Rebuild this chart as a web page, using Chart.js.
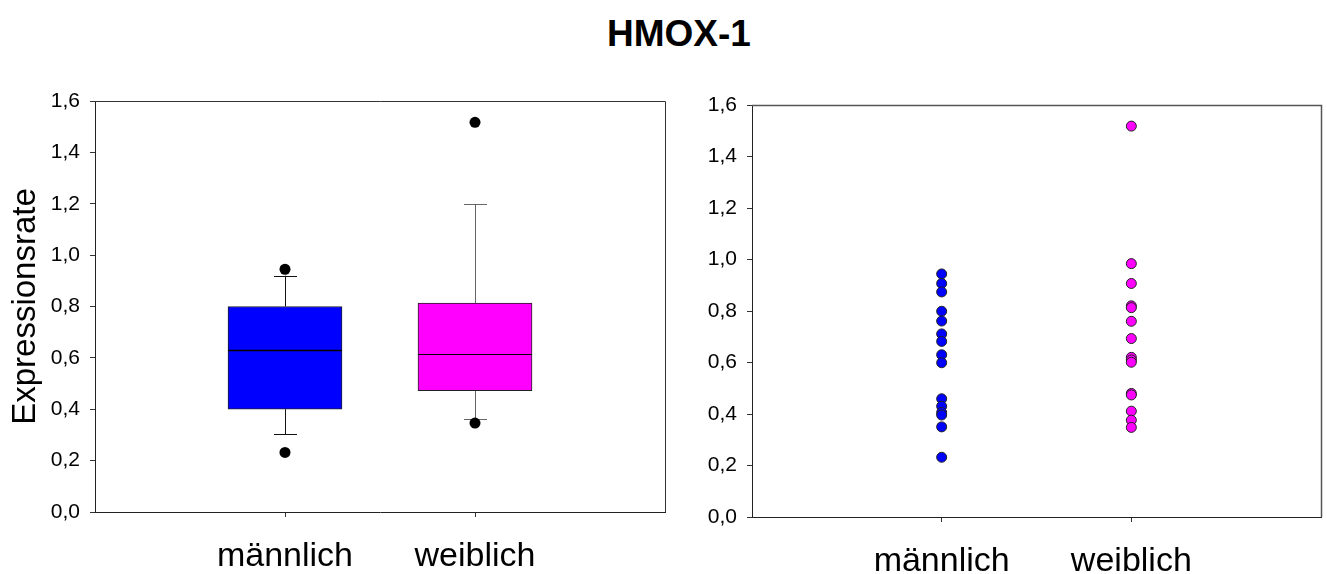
<!DOCTYPE html>
<html>
<head>
<meta charset="utf-8">
<title>HMOX-1</title>
<script src="https://cdn.jsdelivr.net/npm/chart.js@4.4.1/dist/chart.umd.min.js"></script>
<style>
    html, body { margin: 0; padding: 0; background: #fff; }
    body { width: 1327px; height: 574px; position: relative; overflow: hidden; }
    #title {
        position: absolute; left: 679px; top: 15px; transform: translateX(-50%);
        font: bold 37px "Liberation Sans", Arial, sans-serif; line-height: 37px;
        color: #000; white-space: nowrap;
    }
    #boxChart { position: absolute; left: 0; top: 0; }
    #dotChart { position: absolute; left: 680px; top: 0; }
</style>
</head>
<body>
<div id="title">HMOX-1</div>
<canvas id="boxChart" width="680" height="574"></canvas>
<canvas id="dotChart" width="647" height="574"></canvas>
<script>
// Gruppen
const categories = ['männlich', 'weiblich'];
const yTickValues = [0, 0.2, 0.4, 0.6, 0.8, 1.0, 1.2, 1.4, 1.6];

// Boxplot-Kennwerte (Perzentile 10/25/50/75/90)
const whiskerLow = [0.302, 0.363];
const boxQ1 = [0.400, 0.472];
const boxMedian = [0.629, 0.616];
const boxQ3 = [0.800, 0.813];
const whiskerHigh = [0.920, 1.198];
// Ausreisser (5./95. Perzentil)
const outlierMale = [0.232, 0.945];
const outlierFemale = [0.346, 1.517];

// Einzelwerte
const maleValues = [0.944, 0.907, 0.874, 0.799, 0.761, 0.711, 0.682, 0.630,
    0.599, 0.459, 0.430, 0.406, 0.396, 0.350, 0.232];
const femaleValues = [1.518, 0.984, 0.907, 0.820, 0.813, 0.760, 0.693, 0.620,
    0.610, 0.601, 0.480, 0.474, 0.411, 0.376, 0.348];

const FONT = '"Liberation Sans", Arial, sans-serif';
const groupColors = ['#0000ff', '#ff00ff'];

function fmtComma(v) {
    return v.toFixed(1).replace('.', ',');
}

// gemeinsame Achsen
function makeScales(yWidth, xHeight, withTitle) {
    return {
        x: {
            type: 'linear',
            min: 0,
            max: 3,
            offset: false,
            afterBuildTicks: axis => { axis.ticks = categories.map((c, i) => ({ value: i + 1 })); },
            afterFit: scale => { scale.height = xHeight; },
            grid: { display: true, drawOnChartArea: false, drawTicks: true, tickLength: 5, color: '#333', offset: false },
            border: { display: true, color: '#222', width: 1 },
            ticks: {
                padding: 19,
                maxRotation: 0,
                autoSkip: false,
                color: '#000',
                font: { family: FONT, size: 34 },
                callback: v => categories[v - 1] || ''
            }
        },
        y: {
            min: 0,
            max: 1.6,
            afterBuildTicks: axis => { axis.ticks = yTickValues.map(v => ({ value: v })); },
            afterFit: scale => { scale.width = yWidth; },
            grid: { display: true, drawOnChartArea: false, drawTicks: true, tickLength: 5, color: '#333' },
            border: { display: true, color: '#222', width: 1 },
            ticks: {
                padding: 10,
                color: '#000',
                font: { family: FONT, size: 21 },
                callback: v => fmtComma(v)
            },
            title: {
                display: withTitle,
                text: 'Expressionsrate',
                color: '#000',
                font: { family: FONT, size: 33 },
                padding: { top: 6, bottom: 0 }
            }
        }
    };
}

// Rahmen oben und rechts
const framePlugin = {
    id: 'frame',
    afterDraw(chart, args, opts) {
        const { ctx, chartArea: a } = chart;
        ctx.save();
        ctx.strokeStyle = opts.color || '#444';
        ctx.lineWidth = opts.width || 1;
        ctx.beginPath();
        ctx.moveTo(a.left, a.top + 0.5);
        ctx.lineTo(a.right + 0.5, a.top + 0.5);
        ctx.lineTo(a.right + 0.5, a.bottom);
        ctx.stroke();
        ctx.restore();
    }
};

// Whisker, Kappen und Median fuer den Boxplot
const whiskerPlugin = {
    id: 'whiskers',
    beforeDatasetsDraw(chart, args, opts) {
        const { ctx, scales: { x, y } } = chart;
        ctx.save();
        ctx.lineWidth = 1;
        categories.forEach((c, i) => {
            const px = Math.round(x.getPixelForValue(i + 1)) + 0.5;
            const capHalf = opts.capWidth / 2;
            ctx.strokeStyle = opts.colors[i];
            ctx.beginPath();
            ctx.moveTo(px, y.getPixelForValue(whiskerLow[i]));
            ctx.lineTo(px, y.getPixelForValue(boxQ1[i]));
            ctx.moveTo(px, y.getPixelForValue(boxQ3[i]));
            ctx.lineTo(px, y.getPixelForValue(whiskerHigh[i]));
            [whiskerLow[i], whiskerHigh[i]].forEach(v => {
                const py = Math.round(y.getPixelForValue(v)) + 0.5;
                ctx.moveTo(px - capHalf, py);
                ctx.lineTo(px + capHalf, py);
            });
            ctx.stroke();
        });
        ctx.restore();
    },
    afterDatasetsDraw(chart, args, opts) {
        const { ctx, scales: { x, y } } = chart;
        ctx.save();
        ctx.strokeStyle = '#000';
        categories.forEach((c, i) => {
            const px = x.getPixelForValue(i + 1);
            const py = Math.round(y.getPixelForValue(boxMedian[i])) + 0.5;
            ctx.lineWidth = opts.medianWidths[i];
            ctx.beginPath();
            ctx.moveTo(px - opts.boxWidth / 2, py);
            ctx.lineTo(px + opts.boxWidth / 2, py);
            ctx.stroke();
        });
        ctx.restore();
    }
};

const BOX_WIDTH = 114;

new Chart(document.getElementById('boxChart'), {
    type: 'bar',
    data: {
        datasets: [{
            type: 'scatter',
            data: outlierMale.map(v => ({ x: 1, y: v }))
                .concat(outlierFemale.map(v => ({ x: 2, y: v }))),
            backgroundColor: '#000',
            borderWidth: 0,
            pointRadius: 5.5
        }, {
            type: 'bar',
            data: categories.map((c, i) => ({ x: i + 1, y: [boxQ1[i], boxQ3[i]] })),
            backgroundColor: groupColors,
            borderColor: '#222',
            borderWidth: 1,
            borderSkipped: false,
            barThickness: BOX_WIDTH
        }]
    },
    options: {
        responsive: false,
        animation: false,
        events: [],
        layout: { padding: { top: 101, right: 15, left: 0, bottom: 0 } },
        plugins: {
            legend: { display: false },
            tooltip: { enabled: false },
            frame: { color: '#333', width: 1 },
            whiskers: { colors: ['#111', '#666'], capWidth: 23, boxWidth: BOX_WIDTH, medianWidths: [1.6, 1.2] }
        },
        scales: makeScales(95, 62, true)
    },
    plugins: [framePlugin, whiskerPlugin]
});

new Chart(document.getElementById('dotChart'), {
    type: 'scatter',
    data: {
        datasets: [{
            data: femaleValues.map(v => ({ x: 2, y: v })),
            backgroundColor: groupColors[1],
            borderColor: '#222',
            borderWidth: 1,
            pointRadius: 5
        }, {
            data: maleValues.map(v => ({ x: 1, y: v })),
            backgroundColor: groupColors[0],
            borderColor: '#222',
            borderWidth: 1,
            pointRadius: 5
        }]
    },
    options: {
        responsive: false,
        animation: false,
        events: [],
        layout: { padding: { top: 105, right: 5, left: 0, bottom: 0 } },
        plugins: {
            legend: { display: false },
            tooltip: { enabled: false },
            frame: { color: '#555', width: 1.5 }
        },
        scales: makeScales(72, 57, false)
    },
    plugins: [framePlugin]
});
</script>
</body>
</html>
